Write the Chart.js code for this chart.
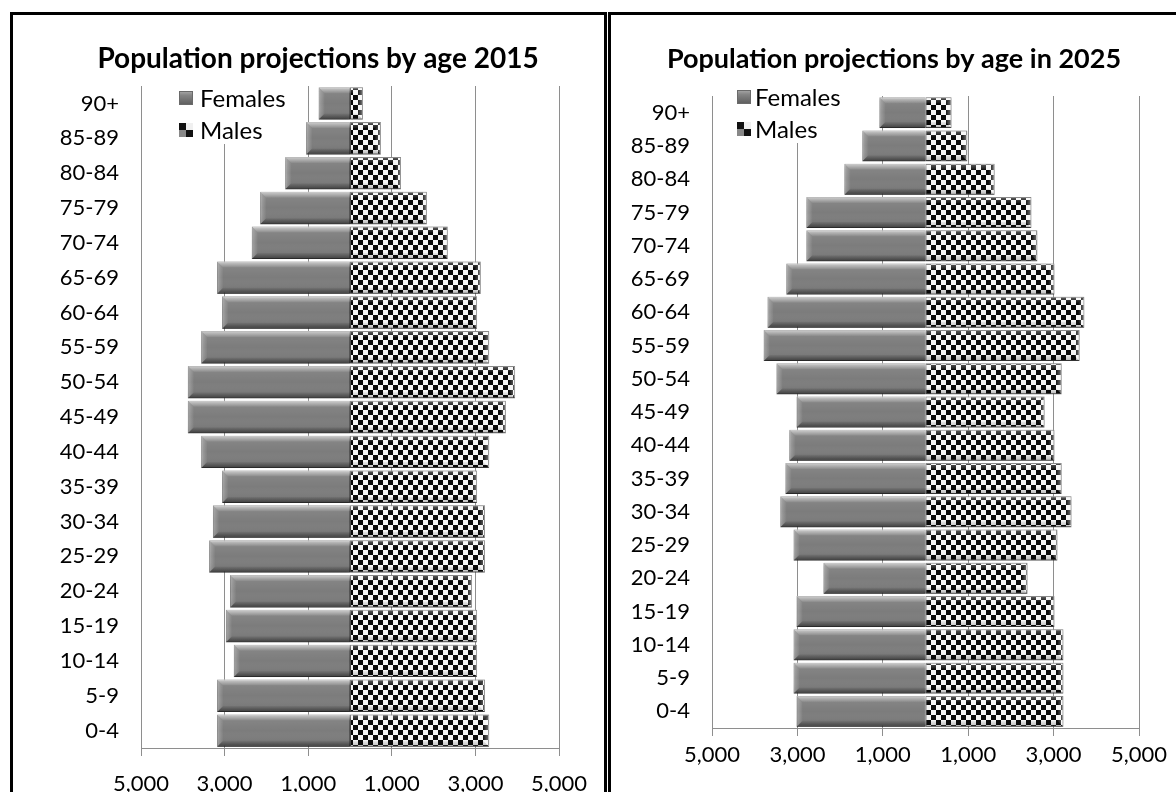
<!DOCTYPE html>
<html>
<head>
<meta charset="utf-8">
<script src="https://cdn.jsdelivr.net/npm/chart.js@4.4.1/dist/chart.umd.min.js"></script>
<style>
  html, body { margin: 0; padding: 0; background: #fff; width: 1176px; height: 792px; overflow: hidden; }
  .panel { position: absolute; border: 3px solid #000; box-sizing: border-box; background: #fff; }
  #p1 { left: 10px; top: 12px; width: 597px; height: 800px; }
  #p2 { left: 608px; top: 12px; width: 600px; height: 800px; }
  canvas { position: absolute; left: 0; top: 0; }
</style>
</head>
<body>
<div class="panel" id="p1"><canvas id="c2015" width="591" height="777"></canvas></div>
<div class="panel" id="p2"><canvas id="c2025" width="565" height="777"></canvas></div>
<script>
// Age bands, youngest first (drawn bottom to top)
const ageGroups = ['0-4', '5-9', '10-14', '15-19', '20-24', '25-29', '30-34', '35-39', '40-44',
  '45-49', '50-54', '55-59', '60-64', '65-69', '70-74', '75-79', '80-84', '85-89', '90+'];

// Projected population per age band
const females2015 = [3180, 3180, 2780, 2970, 2870, 3370, 3280, 3060, 3560, 3880, 3880, 3560, 3060, 3180, 2350, 2150, 1550, 1050, 750];
const males2015   = [3330, 3230, 3040, 3040, 2920, 3230, 3230, 3040, 3330, 3730, 3950, 3330, 3040, 3130, 2340, 1840, 1220, 740, 310];
const females2025 = [3020, 3090, 3090, 3020, 2390, 3090, 3400, 3280, 3190, 3020, 3490, 3790, 3700, 3260, 2790, 2790, 1900, 1480, 1080];
const males2025   = [3230, 3230, 3230, 3020, 2390, 3090, 3420, 3190, 3020, 2790, 3190, 3610, 3720, 3020, 2620, 2480, 1620, 980, 610];

// Value axis ticks (females to the left of zero)
const xTickValues = [-5000, -3000, -1000, 1000, 3000, 5000];

const FONT = 'Lato, "Open Sans", "DejaVu Sans", sans-serif';
const GRID = '#8e8e8e';

function makeChecker(cell) {
  const c = document.createElement('canvas');
  c.width = c.height = cell * 2;
  const g = c.getContext('2d');
  g.fillStyle = '#f6f6f6';
  g.fillRect(0, 0, cell * 2, cell * 2);
  g.fillStyle = '#0a0a0a';
  g.fillRect(0, 0, cell, cell);
  g.fillRect(cell, cell, cell, cell);
  return g.createPattern(c, 'repeat');
}
const checker = makeChecker(5);

// Bevelled look for each bar, drawn over the bar the library has laid out
function bevel(ctx, l, r, t, b, outerLeft, female) {
  const h = b - t, w = r - l;
  const d = Math.max(1, Math.min(6, w / 2, h / 3));
  ctx.save();
  if (female) {
    const gf = ctx.createLinearGradient(0, t, 0, b);
    gf.addColorStop(0, 'rgba(255,255,255,0.10)');
    gf.addColorStop(0.5, 'rgba(255,255,255,0)');
    gf.addColorStop(1, 'rgba(0,0,0,0.14)');
    ctx.fillStyle = gf;
    ctx.fillRect(l, t, w, h);
  }
  // top face
  let g = ctx.createLinearGradient(0, t, 0, t + d);
  g.addColorStop(0, female ? 'rgba(255,255,255,0.60)' : 'rgba(255,255,255,0.35)');
  g.addColorStop(1, 'rgba(255,255,255,0.05)');
  ctx.fillStyle = g;
  ctx.beginPath();
  ctx.moveTo(l, t); ctx.lineTo(r, t);
  ctx.lineTo(outerLeft ? r : r - d, t + d);
  ctx.lineTo(outerLeft ? l + d : l, t + d);
  ctx.closePath(); ctx.fill();
  // bottom face
  g = ctx.createLinearGradient(0, b - d, 0, b);
  g.addColorStop(0, 'rgba(0,0,0,0.05)');
  g.addColorStop(1, female ? 'rgba(0,0,0,0.42)' : 'rgba(0,0,0,0.25)');
  ctx.fillStyle = g;
  ctx.beginPath();
  ctx.moveTo(outerLeft ? l + d : l, b - d);
  ctx.lineTo(outerLeft ? r : r - d, b - d);
  ctx.lineTo(r, b); ctx.lineTo(l, b);
  ctx.closePath(); ctx.fill();
  // outer end face
  const ex = outerLeft ? l : r, ix = outerLeft ? l + d : r - d;
  g = ctx.createLinearGradient(ex, 0, ix, 0);
  g.addColorStop(0, female ? 'rgba(255,255,255,0.30)' : 'rgba(255,255,255,0.45)');
  g.addColorStop(1, 'rgba(255,255,255,0.02)');
  ctx.fillStyle = g;
  ctx.beginPath();
  ctx.moveTo(ex, t); ctx.lineTo(ix, t + d); ctx.lineTo(ix, b - d); ctx.lineTo(ex, b);
  ctx.closePath(); ctx.fill();
  ctx.restore();
}

const bevelPlugin = {
  id: 'bevel',
  beforeDatasetsDraw(chart) {
    const ctx = chart.ctx;
    ctx.save();
    ctx.shadowColor = 'rgba(0,0,0,0.35)';
    ctx.shadowBlur = 3;
    ctx.shadowOffsetX = 0;
    ctx.shadowOffsetY = 1;
  },
  afterDatasetsDraw(chart) {
    const ctx = chart.ctx;
    ctx.restore();
    chart.data.datasets.forEach((ds, di) => {
      const meta = chart.getDatasetMeta(di);
      meta.data.forEach(el => {
        const p = el.getProps(['x', 'y', 'base', 'height'], true);
        const l = Math.min(p.x, p.base), r = Math.max(p.x, p.base);
        if (r - l < 1) return;
        bevel(ctx, l, r, p.y - p.height / 2, p.y + p.height / 2, p.x < p.base, ds.label === 'Females');
      });
    });
  }
};

// Title and legend placed over the upper plot area
const headerPlugin = {
  id: 'header',
  afterDraw(chart, args, o) {
    const ctx = chart.ctx;
    ctx.save();
    ctx.fillStyle = '#000';
    ctx.font = 'bold ' + o.titleSize + 'px ' + FONT;
    ctx.textAlign = 'center';
    ctx.textBaseline = 'middle';
    ctx.fillText(o.title, o.titleX, o.titleY);

    ctx.fillStyle = '#fff';
    ctx.fillRect(o.legendX - 3, o.legendY - 12, 122, o.legendGap + 26);
    ctx.font = '24px ' + FONT;
    ctx.textAlign = 'left';
    const s = 14;
    chart.data.datasets.forEach((ds, i) => {
      const cy = o.legendY + i * o.legendGap;
      const bx = o.legendX, by = Math.round(cy - s / 2);
      if (ds.label === 'Females') {
        const g = ctx.createLinearGradient(0, by, 0, by + s);
        g.addColorStop(0, '#ababab'); g.addColorStop(0.3, '#868686'); g.addColorStop(1, '#5c5c5c');
        ctx.fillStyle = g;
        ctx.fillRect(bx, by, s, s);
        ctx.strokeStyle = '#6a6a6a'; ctx.lineWidth = 1;
        ctx.strokeRect(bx + 0.5, by + 0.5, s - 1, s - 1);
      } else {
        const h = Math.round(s / 2);
        ctx.fillStyle = '#f0f0f0'; ctx.fillRect(bx, by, s, s);
        ctx.fillStyle = '#111'; ctx.fillRect(bx, by, h, h); ctx.fillRect(bx + h, by + h, s - h, s - h);
        ctx.fillStyle = '#888'; ctx.fillRect(bx, by + h, h, s - h);
      }
      ctx.fillStyle = '#000';
      ctx.fillText(ds.label, o.textX, cy + 1);
    });
    ctx.restore();
  }
};

function pyramid(id, females, males, geom, header) {
  const canvas = document.getElementById(id);
  return new Chart(canvas.getContext('2d'), {
    type: 'bar',
    data: {
      labels: ageGroups,
      datasets: [
        { label: 'Females', data: females.map(v => -v), backgroundColor: '#7c7c7c',
          borderColor: '#5f5f5f', borderWidth: 1, borderSkipped: false,
          barPercentage: 0.93, categoryPercentage: 1 },
        { label: 'Males', data: males, backgroundColor: checker,
          borderColor: '#555', borderWidth: 1, borderSkipped: false,
          barPercentage: 0.93, categoryPercentage: 1 }
      ]
    },
    options: {
      indexAxis: 'y',
      responsive: false,
      animation: false,
      devicePixelRatio: 1,
      layout: { padding: { top: geom.top, right: geom.padRight, bottom: geom.padBottom, left: 0 } },
      plugins: {
        legend: { display: false },
        title: { display: false },
        tooltip: { enabled: false },
        header: header
      },
      scales: {
        x: {
          type: 'linear', stacked: true, min: -5000, max: 5000,
          afterBuildTicks: s => { s.ticks = xTickValues.map(v => ({ value: v })); },
          afterFit: s => { s.height = geom.xAxisHeight; },
          grid: { color: GRID, lineWidth: 1, tickLength: 8, drawTicks: true },
          border: { color: GRID, width: 1 },
          ticks: { padding: geom.tickPad, color: '#000', autoSkip: false, maxRotation: 0,
                   font: { family: FONT, size: 22 },
                   callback: v => Math.abs(v).toLocaleString('en-US') }
        },
        y: {
          type: 'category', stacked: true, reverse: true,
          afterFit: s => { s.width = geom.left; },
          grid: { display: false, drawTicks: false },
          border: { color: GRID, width: 1 },
          ticks: { padding: 22, color: '#000', autoSkip: false, font: { family: FONT, size: 22 } }
        }
      }
    },
    plugins: [bevelPlugin, headerPlugin]
  });
}

pyramid('c2015', females2015, males2015,
  { left: 128, top: 71, padRight: 45, padBottom: 0, xAxisHeight: 44, tickPad: 15 },
  { title: 'Population projections by age 2015', titleSize: 28, titleX: 305, titleY: 44,
    legendX: 166, legendY: 83, legendGap: 32, textX: 187 });

pyramid('c2025', females2025, males2025,
  { left: 101, top: 81, padRight: 37, padBottom: 20, xAxisHeight: 44, tickPad: 6 },
  { title: 'Population projections by age in 2025', titleSize: 27, titleX: 283, titleY: 44,
    legendX: 126, legendY: 82, legendGap: 32, textX: 144 });
</script>
</body>
</html>
